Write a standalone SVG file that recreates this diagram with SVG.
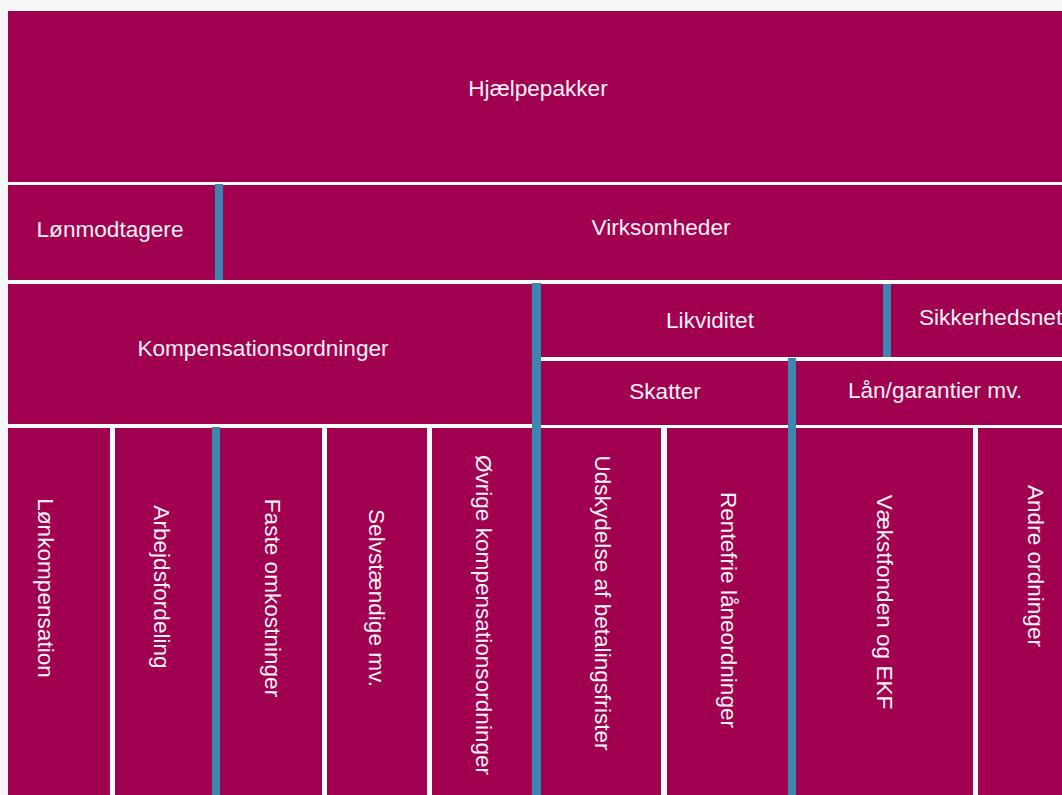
<svg xmlns="http://www.w3.org/2000/svg" width="1062" height="795" viewBox="0 0 1062 795">
<style>
.box{fill:#a0004f}
.bar{fill:#3b87b2}
.t{font-family:"Liberation Sans",Arial,sans-serif;font-size:22.6px;fill:#fdf2f7}
.c{text-anchor:middle}
</style>
<rect x="0" y="0" width="1062" height="795" fill="#f5f7f7"/>
<rect x="0" y="182" width="1062" height="613" fill="#ffffff"/>
<rect x="0" y="0" width="8" height="795" fill="#f5f7f7"/>
<g id="hjaelpepakker"><rect class="box" x="8" y="11" width="1054" height="171"/><text class="t c" x="538" y="96">Hjælpepakker</text></g>
<g id="lonmodtagere"><rect class="box" x="8" y="185" width="207" height="95"/><text class="t c" x="110" y="237">Lønmodtagere</text></g>
<g id="virksomheder"><rect class="box" x="223" y="185" width="839" height="95"/><text class="t c" x="661" y="235">Virksomheder</text></g>
<g id="kompensationsordninger"><rect class="box" x="8" y="284" width="524" height="140"/><text class="t c" x="263" y="356">Kompensationsordninger</text></g>
<g id="likviditet"><rect class="box" x="541" y="284" width="342" height="73"/><text class="t c" x="710" y="328">Likviditet</text></g>
<g id="sikkerhedsnet"><rect class="box" x="891" y="284" width="171" height="73"/><text class="t" x="919" y="325">Sikkerhedsnet</text></g>
<g id="skatter"><rect class="box" x="541" y="361" width="247" height="64"/><text class="t c" x="665" y="399">Skatter</text></g>
<g id="laan"><rect class="box" x="796" y="361" width="266" height="64"/><text class="t c" x="935" y="398">Lån/garantier mv.</text></g>
<g id="lonkompensation"><rect class="box" x="8" y="428" width="102" height="367"/><text class="t c" transform="translate(38,588) rotate(90)">Lønkompensation</text></g>
<g id="arbejdsfordeling"><rect class="box" x="115" y="428" width="98" height="367"/><text class="t c" transform="translate(154,587) rotate(90)">Arbejdsfordeling</text></g>
<g id="faste"><rect class="box" x="220" y="428" width="102" height="367"/><text class="t c" transform="translate(265,598) rotate(90)">Faste omkostninger</text></g>
<g id="selvstaendige"><rect class="box" x="327" y="428" width="100" height="367"/><text class="t c" transform="translate(369,598) rotate(90)">Selvstændige mv.</text></g>
<g id="ovrige"><rect class="box" x="432" y="428" width="101" height="367"/><text class="t c" transform="translate(476,615) rotate(90)">Øvrige kompensationsordninger</text></g>
<g id="udskydelse"><rect class="box" x="541" y="428" width="120" height="367"/><text class="t c" transform="translate(595,603) rotate(90)">Udskydelse af betalingsfrister</text></g>
<g id="rentefrie"><rect class="box" x="667" y="428" width="121" height="367"/><text class="t c" transform="translate(721,610) rotate(90)">Rentefrie låneordninger</text></g>
<g id="vaekstfonden"><rect class="box" x="796" y="428" width="177" height="367"/><text class="t c" transform="translate(877,602) rotate(90)">Vækstfonden og EKF</text></g>
<g id="andre"><rect class="box" x="978" y="428" width="84" height="367"/><text class="t c" transform="translate(1028,566) rotate(90)">Andre ordninger</text></g>
<g id="connectors">
<rect class="bar" x="215" y="184" width="8" height="96"/>
<rect class="bar" x="532" y="283" width="9" height="512"/>
<rect class="bar" x="883" y="284" width="8" height="73"/>
<rect class="bar" x="788" y="358" width="8" height="437"/>
<rect class="bar" x="212" y="427" width="8" height="368"/>
</g>
</svg>
